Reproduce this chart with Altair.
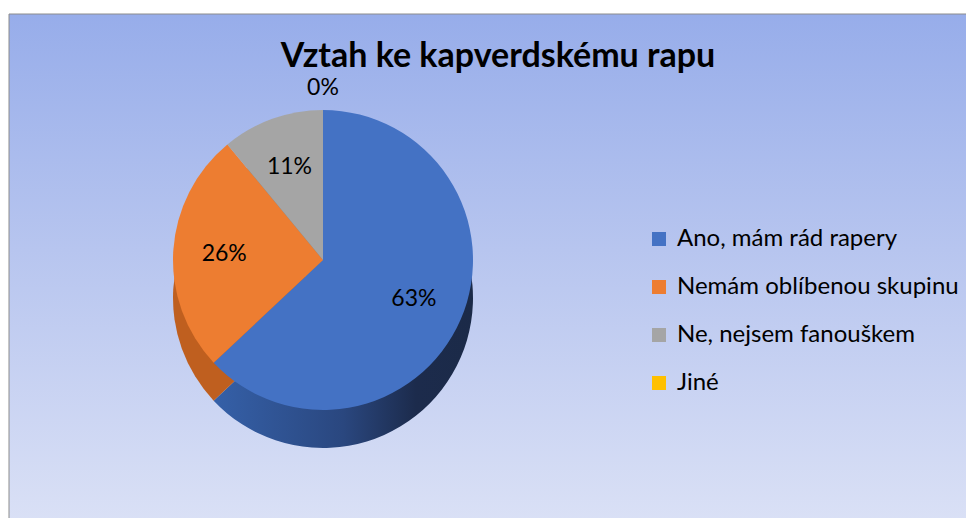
import altair as alt
import pandas as pd

title_text = "Vztah ke kapverdskému rapu"
categories = ["Ano, mám rád rapery", "Nemám oblíbenou skupinu", "Ne, nejsem fanouškem", "Jiné"]
values = [63, 26, 11, 0]
labels = ["63%", "26%", "11%", "0%"]

top_colors = ["#4472C4", "#ED7D31", "#A5A5A5", "#FFC000"]
side_colors = ["#26406E", "#BF5F1F", "#7A7A7A", "#C49400"]

df = pd.DataFrame({"cat": categories, "val": values, "lab": labels, "order": range(len(categories))})

W, H = 958, 510
CX, CY = 314, 252
R = 150
DEPTH = 38
FONT = "Lato"

bg = alt.Chart(pd.DataFrame({"a": [0]})).mark_rect(
    fill=alt.Gradient(
        gradient="linear",
        stops=[alt.GradientStop(color="#97ADEA", offset=0),
               alt.GradientStop(color="#B7C5EF", offset=0.45),
               alt.GradientStop(color="#DCE2F6", offset=1)],
        x1=0, x2=0, y1=0, y2=1),
    stroke="#8C8C8C", strokeWidth=1,
).encode(x=alt.value(0), x2=alt.value(W + 20), y=alt.value(6), y2=alt.value(H + 20))

base = alt.Chart(df)

# blue side with a horizontal shading gradient, other sides plain
side_blue = base.mark_arc(
    outerRadius=R,
    fill=alt.Gradient(
        gradient="linear",
        stops=[alt.GradientStop(color="#3560A8", offset=0),
               alt.GradientStop(color="#2A477F", offset=0.5),
               alt.GradientStop(color="#1C2B4C", offset=0.78),
               alt.GradientStop(color="#1B2A48", offset=1)],
        x1=0, x2=1, y1=0, y2=0),
).encode(
    theta=alt.Theta("val:Q", stack=True),
    order=alt.Order("order:Q"),
    fillOpacity=alt.condition("datum.order == 0", alt.value(1), alt.value(0)),
    x=alt.value(CX), y=alt.value(CY + DEPTH),
)

side = base.mark_arc(outerRadius=R).encode(
    theta=alt.Theta("val:Q", stack=True),
    order=alt.Order("order:Q"),
    color=alt.Color("cat:N", scale=alt.Scale(domain=categories, range=side_colors), legend=None),
    fillOpacity=alt.condition("datum.order == 0", alt.value(0), alt.value(1)),
    x=alt.value(CX), y=alt.value(CY + DEPTH),
)

top = base.mark_arc(outerRadius=R).encode(
    theta=alt.Theta("val:Q", stack=True),
    order=alt.Order("order:Q"),
    color=alt.Color("cat:N", sort=categories,
                    scale=alt.Scale(domain=categories, range=top_colors),
                    legend=alt.Legend(title=None, orient="none", legendX=638, legendY=219,
                                      padding=0,
                                      symbolType="square", symbolSize=196, symbolStrokeWidth=0,
                                      labelFontSize=24, labelFont=FONT, labelColor="#000000",
                                      rowPadding=24, labelOffset=6, labelLimit=400)),
    x=alt.value(CX), y=alt.value(CY),
)

inner_lab = base.mark_text(fontSize=23, font=FONT, color="#000000").encode(
    theta=alt.Theta("val:Q", stack=True),
    order=alt.Order("order:Q"),
    text=alt.condition("datum.val > 0", alt.Text("lab:N"), alt.value("")),
    radius=alt.value(R * 0.66),
    x=alt.value(CX), y=alt.value(CY),
)

outer_lab = base.mark_text(fontSize=23, font=FONT, color="#000000").encode(
    theta=alt.Theta("val:Q", stack=True),
    order=alt.Order("order:Q"),
    text=alt.condition("datum.val == 0", alt.Text("lab:N"), alt.value("")),
    radius=alt.value(R + 22),
    x=alt.value(CX), y=alt.value(CY),
)

title = alt.Chart(pd.DataFrame({"t": [title_text]})).mark_text(
    fontSize=34, fontWeight="bold", font=FONT, color="#000000"
).encode(text="t:N", x=alt.value(489), y=alt.value(49))

chart = alt.layer(bg, side_blue, side, top, inner_lab, outer_lab, title).resolve_scale(
    color="independent", theta="independent"
).properties(
    width=W, height=H, padding=0,
    autosize=alt.AutoSizeParams(type="fit", contains="padding"),
    background="white",
).configure_view(stroke=None)

chart.save("out.html", embed_options={"renderer": "svg", "actions": False})
